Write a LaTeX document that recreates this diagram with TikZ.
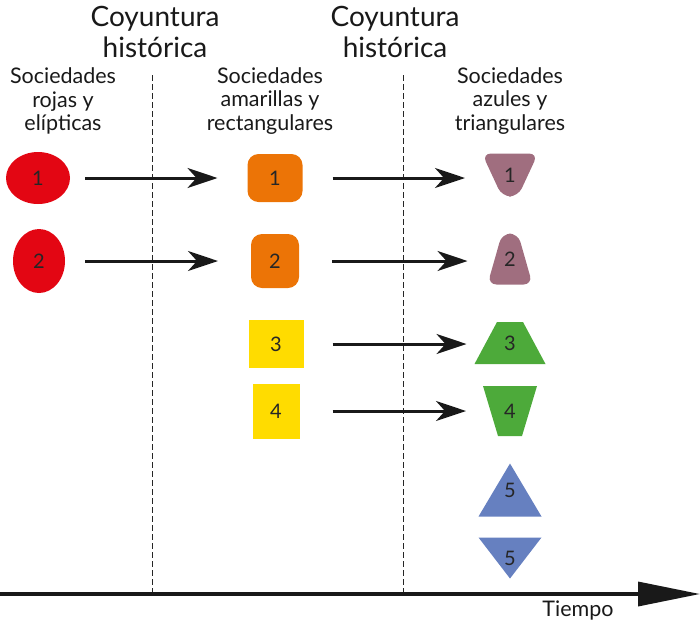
\documentclass[tikz,border=0pt]{standalone}
\usepackage{fontspec}
\setmainfont{Lato}
\usepackage{tikz}
\usetikzlibrary{arrows.meta}
\usetikzlibrary{shapes.geometric}
\usepackage{xcolor}

\definecolor{rojo}{HTML}{E30613}
\definecolor{naranja}{HTML}{EC7406}
\definecolor{amarillo}{HTML}{FFDC00}
\definecolor{malva}{HTML}{A06E7F}
\definecolor{verde}{HTML}{4DAA3A}
\definecolor{azul}{HTML}{6680C0}

\tikzset{
  base/.style={inner sep=0pt, outer sep=0pt, text=black!85, font=\fontsize{20}{20}\selectfont},
  elipse/.style={base, ellipse, fill=rojo},
  caja/.style={base, rectangle, fill=#1},
  triabajo/.style={base, path picture={\fill[#1] (path picture bounding box.north west) -- (path picture bounding box.north east) -- (path picture bounding box.south) -- cycle;}},
  triarriba/.style={base, path picture={\fill[#1] (path picture bounding box.south west) -- (path picture bounding box.south east) -- (path picture bounding box.north) -- cycle;}},
  traparriba/.style 2 args={base, path picture={\fill[#1] (path picture bounding box.south west) -- (path picture bounding box.south east) -- ([xshift=#2]path picture bounding box.north) -- ([xshift=-#2]path picture bounding box.north) -- cycle;}},
  trapabajo/.style 2 args={base, path picture={\fill[#1] (path picture bounding box.north west) -- (path picture bounding box.north east) -- ([xshift=#2]path picture bounding box.south) -- ([xshift=-#2]path picture bounding box.south) -- cycle;}},
  flecha/.style={line width=3pt, black!90, -{Stealth[length=30pt,width=20pt,inset=9pt]}},
  titulo/.style={align=center, font=\fontsize{28}{31}\selectfont, text=black!90},
  cabecera/.style={align=center, font=\fontsize{21.5}{23.5}\selectfont, text=black!90},
  corte/.style={line width=0.8pt, dash pattern=on 6pt off 3pt, black!85}
}

\begin{document}
\begin{tikzpicture}[x=1pt,y=-1pt]
\useasboundingbox (0,0) rectangle (700,627);

\node[titulo] (coy1) at (155,32) {Coyuntura\\histórica};
\node[titulo] (coy2) at (395,32) {Coyuntura\\histórica};

\node[cabecera] (cab1) at (63,101) {Sociedades\\rojas y\\elípticas};
\node[cabecera] (cab2) at (270,101) {Sociedades\\amarillas y\\rectangulares};
\node[cabecera] (cab3) at (510,101) {Sociedades\\azules y\\triangulares};

\draw[corte] (152,75) -- (152,595);
\draw[corte] (403,75) -- (403,595);

\node[elipse, minimum width=64pt, minimum height=52pt] (rojo1) at (38,178) {1};
\node[elipse, minimum width=52pt, minimum height=64pt] (rojo2) at (39,261) {2};

\node[caja=naranja, rounded corners=11pt, minimum width=55pt, minimum height=48pt] (nar1) at (275,178) {1};
\node[caja=naranja, rounded corners=11pt, minimum width=48pt, minimum height=54pt] (nar2) at (275,261) {2};
\node[caja=amarillo, minimum width=55pt, minimum height=48pt] (ama3) at (276,344) {3};
\node[caja=amarillo, minimum width=47pt, minimum height=55pt] (ama4) at (276,411) {4};

\node[trapabajo={malva, rounded corners=9pt}{8pt}, minimum width=56pt, minimum height=43pt] (mal1) at (510,175) {1};
\node[traparriba={malva, rounded corners=9pt}{8pt}, minimum width=45pt, minimum height=51pt] (mal2) at (510,259) {2};
\node[traparriba={verde}{13pt}, minimum width=71pt, minimum height=42pt] (ver3) at (510,343) {3};
\node[trapabajo={verde}{12pt}, minimum width=54pt, minimum height=50pt] (ver4) at (510,411) {4};
\node[triarriba=azul, minimum width=63pt, minimum height=53pt] (azu5a) at (510,490) {5};
\node[triabajo=azul, minimum width=63pt, minimum height=41pt] (azu5b) at (510,558) {5};

\draw[flecha, shorten <=15pt, shorten >=30pt] (rojo1) -- (nar1);
\draw[flecha, shorten <=20pt, shorten >=33pt] (rojo2) -- (nar2);
\draw[flecha, shorten <=30pt, shorten >=17pt] (nar1.east) -- (nar1.east -| mal1.west);
\draw[flecha, shorten <=33pt, shorten >=20pt] (nar2.east) -- (nar2.east -| mal2.west);
\draw[flecha, shorten <=29pt, shorten >=8pt] (ama3.east) -- (ama3.east -| ver3.west);
\draw[flecha, shorten <=33pt, shorten >=17pt] (ama4.east) -- (ama4.east -| ver4.west);

\coordinate (t0) at (0,594);
\coordinate (t1) at (700,594);
\draw[line width=3.5pt, black!90, -{Triangle[length=62pt,width=24pt]}] (t0) -- (t1);
\node[cabecera] (tiempo) at (578,610) {Tiempo};

\end{tikzpicture}
\end{document}
